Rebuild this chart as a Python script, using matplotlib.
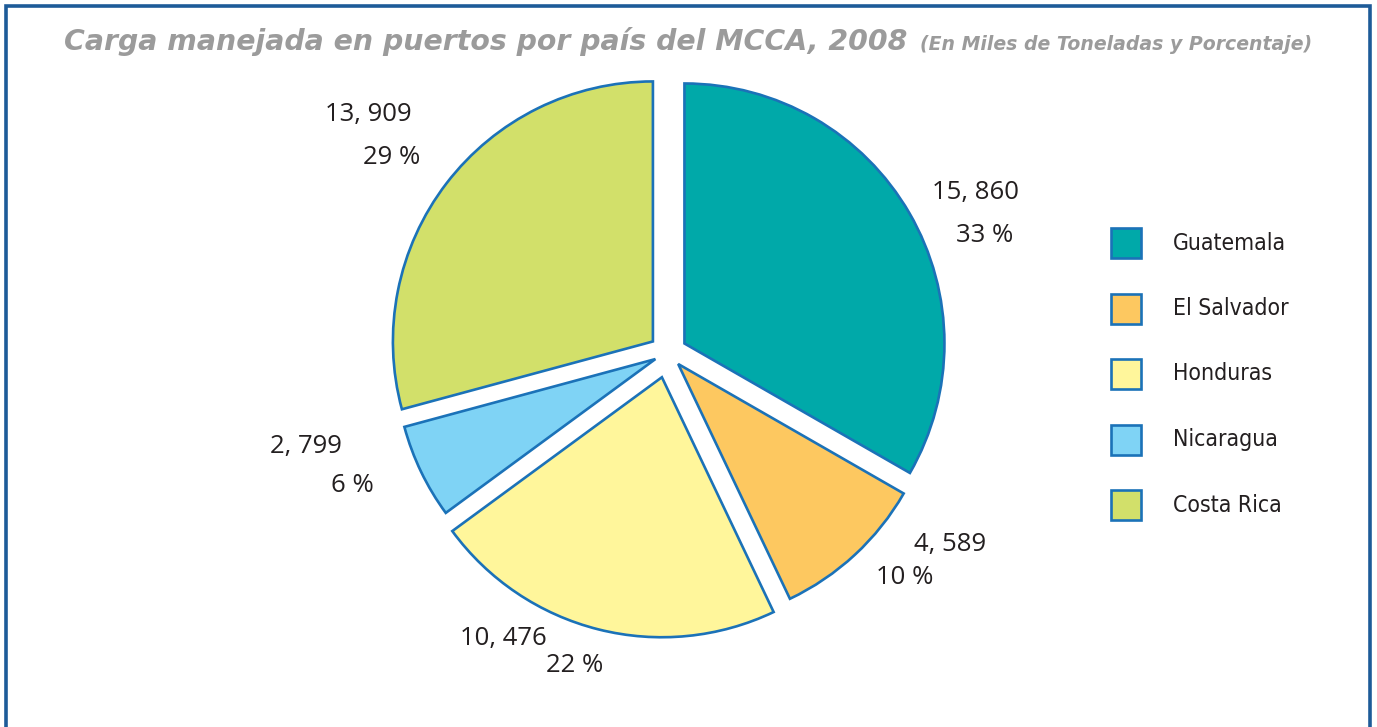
import matplotlib
matplotlib.use("Agg")
import matplotlib.pyplot as plt
from matplotlib.patches import Rectangle
from matplotlib.lines import Line2D

# datos
paises = ["Guatemala", "El Salvador", "Honduras", "Nicaragua", "Costa Rica"]
carga = [15860, 4589, 10476, 2799, 13909]
carga_txt = ["15, 860", "4, 589", "10, 476", "2, 799", "13, 909"]
porcentaje = ["33 %", "10 %", "22 %", "6 %", "29 %"]
colores = ["#00a9a9", "#fdc860", "#fff69b", "#7fd3f5", "#d2e06a"]

W, H = 1377, 727
fig = plt.figure(figsize=(W / 100, H / 100), dpi=100)
ax = fig.add_axes([0, 0, 1, 1])
ax.set_xlim(0, W)
ax.set_ylim(H, 0)
ax.axis("off")

# pie in its own axes so angles stay normal (y up)
pax = fig.add_axes([0, 0, 1, 1])
pax.patch.set_alpha(0)
# explode va en unidades de datos (pixeles aqui)
explode = [19, 15, 25, 14, 19]
wedges, _ = pax.pie(carga, colors=colores, startangle=90, counterclock=False,
                    center=(668, H - 353), radius=260, explode=explode,
                    wedgeprops=dict(edgecolor="#1b72b8", linewidth=1.9,
                                    joinstyle="miter"))
pax.set_aspect("auto")
pax.set_xlim(0, W)
pax.set_ylim(0, H)
pax.axis("off")

# etiquetas (posiciones en pixeles)
pos_val = [(975, 192), (950, 544), (503, 638), (306, 447), (368, 115)]
pos_pct = [(985, 236), (905, 578), (575, 666), (352, 486), (392, 157)]
lab_font = ["Open Sans", "DejaVu Sans"]
for i in range(len(paises)):
    ax.text(*pos_val[i], carga_txt[i], ha="center", va="center",
            fontsize=18.5, color="#231f20", family=lab_font)
    ax.text(*pos_pct[i], porcentaje[i], ha="center", va="center",
            fontsize=18.5, color="#231f20", family=lab_font)

# leyenda manual
for i, p in enumerate(paises):
    yc = 243 + i * 65.5
    ax.add_patch(Rectangle((1111, yc - 15), 30, 30, facecolor=colores[i],
                           edgecolor="#1b72b8", linewidth=1.9))
    ax.text(1173, yc, p, ha="left", va="center", fontsize=16.5,
            color="#231f20", family="DejaVu Sans", fontstretch="condensed")

# titulo
t1 = ax.text(64, 42, "Carga manejada en puertos por país del MCCA, 2008",
             ha="left", va="center", fontsize=20.4, style="italic",
             weight="bold", color="#9b9b9b", family=["DejaVu Sans"])
fig.canvas.draw()
bb = t1.get_window_extent()
ax.text(bb.x1 + 13, 44, "(En Miles de Toneladas y Porcentaje)",
        ha="left", va="center", fontsize=13.6, style="italic",
        weight="bold", color="#9b9b9b", family=["DejaVu Sans"])

# marco (sin linea inferior)
borde = "#1d5b98"
ax.add_line(Line2D([6, 6, W - 7, W - 7], [H, 6, 6, H], color=borde,
                   linewidth=2.6, solid_joinstyle="miter"))

fig.savefig("out.png", dpi=100)
